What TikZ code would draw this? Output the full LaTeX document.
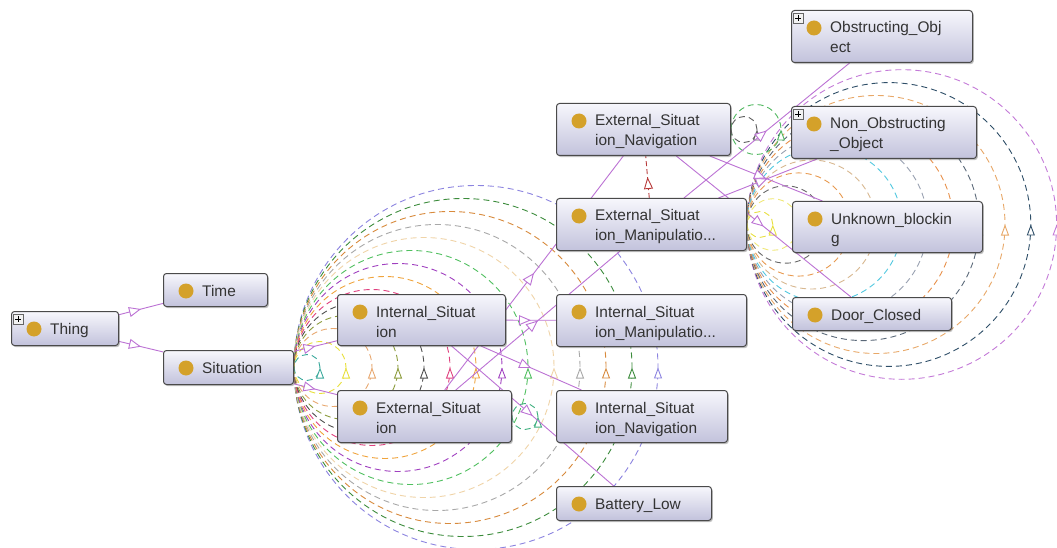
\documentclass[tikz,border=0pt]{standalone}
\usepackage{fontspec}
\setmainfont{Liberation Sans}
\usetikzlibrary{arrows.meta,decorations.markings,shadows}
\definecolor{boxline}{HTML}{4A4A4A}
\definecolor{boxtop}{HTML}{F7F7FC}
\definecolor{boxbot}{HTML}{C2C2DC}
\definecolor{dotc}{HTML}{D4A12A}
\definecolor{txtc}{HTML}{333333}
\definecolor{edgec}{HTML}{BC72D4}
\definecolor{redc}{HTML}{B83A3A}
% Situation loops
\definecolor{s1}{HTML}{3BA99C}\definecolor{s2}{HTML}{E8E03A}\definecolor{s3}{HTML}{E8A870}
\definecolor{s4}{HTML}{8C9C3C}\definecolor{s5}{HTML}{505050}\definecolor{s6}{HTML}{E0407F}
\definecolor{s7}{HTML}{F0A43C}\definecolor{s8}{HTML}{A040C0}\definecolor{s9}{HTML}{50C060}
\definecolor{s10}{HTML}{F0D4A8}\definecolor{s11}{HTML}{A8A8A8}\definecolor{s12}{HTML}{D88A3C}
\definecolor{s13}{HTML}{3C8C3C}\definecolor{s14}{HTML}{8C84E0}
% right loops
\definecolor{r1}{HTML}{E8E040}\definecolor{r2}{HTML}{F0E878}\definecolor{r3}{HTML}{686868}
\definecolor{r4}{HTML}{E89A50}\definecolor{r5}{HTML}{D8B890}\definecolor{r6}{HTML}{50C8E0}
\definecolor{r7}{HTML}{98A0B0}\definecolor{r8}{HTML}{E8904A}\definecolor{r9}{HTML}{5A6878}
\definecolor{r10}{HTML}{E8A868}\definecolor{r11}{HTML}{2F4F68}\definecolor{r12}{HTML}{C47AD8}
\definecolor{g1}{HTML}{606060}\definecolor{g2}{HTML}{50B860}\definecolor{g3}{HTML}{40B080}
\pgfdeclarelayer{back}\pgfdeclarelayer{edges}
\pgfsetlayers{back,edges,main}
\tikzset{
  ontobox/.style={draw=boxline, line width=1pt, rounded corners=3pt,
    top color=boxtop, bottom color=boxbot, inner sep=0pt,
    drop shadow={shadow xshift=1.3pt, shadow yshift=-1.6pt, opacity=0.4, fill=black!60}},
  ontotext/.style={inner sep=0pt, text=txtc, font=\fontsize{15.4}{20}\selectfont},
  plusbox/.style={draw=gray!80!black, fill=gray!10, line width=0.6pt},
  isa/.style={draw=edgec, line width=0.9pt, postaction={decorate},
    decoration={markings, mark=at position 0.5 with {\arrow{Triangle[fill=white,length=12pt,width=10pt]}}}},
  redisa/.style={draw=redc, line width=0.9pt, dash pattern=on 5pt off 3pt, postaction={decorate},
    decoration={markings, mark=at position 0.5 with {\arrow{Triangle[fill=white,length=12pt,width=9pt]}}}},
  loopc/.style={draw=#1, line width=0.9pt, dash pattern=on 6pt off 4pt, postaction={decorate},
    decoration={markings, mark=at position 0.5 with {\arrow{Triangle[fill=white,length=11pt,width=8pt]}}}},
}
\newcommand\ontonode[7]{%
  \node[ontobox, minimum width=#4pt, minimum height=#5pt, anchor=north west] (#1) at (#2,#3) {};
  \fill[dotc] ([xshift=23pt,yshift=-18pt]#1.north west) circle[radius=7.5pt];
  \node[ontotext, anchor=base west] (#1-t) at ([xshift=39pt,yshift=-23pt]#1.north west)
    {\begin{tabular}[t]{@{}l@{}}#6\end{tabular}};
  \ifnum#7=1
    \draw[plusbox] ([xshift=2pt,yshift=-3pt]#1.north west) rectangle ++(10pt,-10pt);
    \draw[line width=0.8pt] ([xshift=4pt,yshift=-8pt]#1.north west) -- ++(6pt,0pt);
    \draw[line width=0.8pt] ([xshift=7pt,yshift=-5pt]#1.north west) -- ++(0pt,-6pt);
  \fi
}
\begin{document}
\begin{tikzpicture}[x=1pt,y=-1pt]
\begin{pgfonlayer}{back}
  \fill[white] (0,0) rectangle (1057,548);
\end{pgfonlayer}
\useasboundingbox (0,0) rectangle (1057,548);

\ontonode{thing}{11}{311}{107}{34}{Thing}{1}
\ontonode{time}{163}{273}{104}{33}{Time}{0}
\ontonode{situation}{163}{350}{130}{34}{Situation}{0}
\ontonode{intsit}{337}{294}{168}{51}{Internal\_Situat\\ion}{0}
\ontonode{extsit}{337}{390}{174}{52}{External\_Situat\\ion}{0}
\ontonode{ism}{556}{294}{190}{52}{Internal\_Situat\\ion\_Manipulatio...}{0}
\ontonode{isn}{556}{390}{171}{52}{Internal\_Situat\\ion\_Navigation}{0}
\ontonode{battery}{556}{486}{155}{34}{Battery\_Low}{0}
\ontonode{esn}{556}{103}{174}{52}{External\_Situat\\ion\_Navigation}{0}
\ontonode{esm}{556}{198}{190}{52}{External\_Situat\\ion\_Manipulatio...}{0}
\ontonode{obst}{791}{10}{181}{52}{Obstructing\_Obj\\ect}{1}
\ontonode{nonobst}{791}{106}{185}{52}{Non\_Obstructing\\\_Object}{1}
\ontonode{unknown}{792}{201}{190}{51}{Unknown\_blockin\\g}{0}
\ontonode{door}{792}{297}{159}{33}{Door\_Closed}{0}

\begin{pgfonlayer}{edges}
  % self loops of Situation
  \foreach \k/\c in {14/s14,13/s13,12/s12,11/s11,10/s10,9/s9,8/s8,7/s7,6/s6,5/s5,4/s4,3/s3,2/s2,1/s1}
    {\draw[loopc=\c] (situation.east) arc[start angle=180,end angle=540,radius=13pt*\k];}
  % self loops of External_Situation_Manipulation
  \foreach \k/\c in {12/r12,11/r11,10/r10,9/r9,8/r8,7/r7,6/r6,5/r5,4/r4,3/r3,2/r2,1/r1}
    {\draw[loopc=\c] (esm.east) arc[start angle=180,end angle=540,radius=12.9pt*\k];}
  % small loops
  \draw[loopc=g2] (esn.east) arc[start angle=180,end angle=540,radius=25pt];
  \draw[loopc=g1] (esn.east) arc[start angle=180,end angle=540,radius=13pt];
  \draw[loopc=g3] (extsit.east) arc[start angle=180,end angle=540,radius=13pt];
  % subclass edges
  \draw[isa] (thing) -- (time);
  \draw[isa] (thing) -- (situation);
  \draw[isa] (situation) -- (intsit);
  \draw[isa] (situation) -- (extsit);
  \draw[isa] (intsit) -- (ism);
  \draw[isa] (intsit) -- (isn);
  \draw[isa] (intsit) -- (battery);
  \draw[isa] (extsit) -- (esn);
  \draw[isa] (extsit) -- (esm);
  \draw[isa] (esm) -- (obst);
  \draw[isa] (esm) -- (nonobst);
  \draw[isa] (esn) -- (unknown);
  \draw[isa] (esn) -- (door);
  \draw[redisa] (esm) -- (esn);
\end{pgfonlayer}
\end{tikzpicture}
\end{document}
